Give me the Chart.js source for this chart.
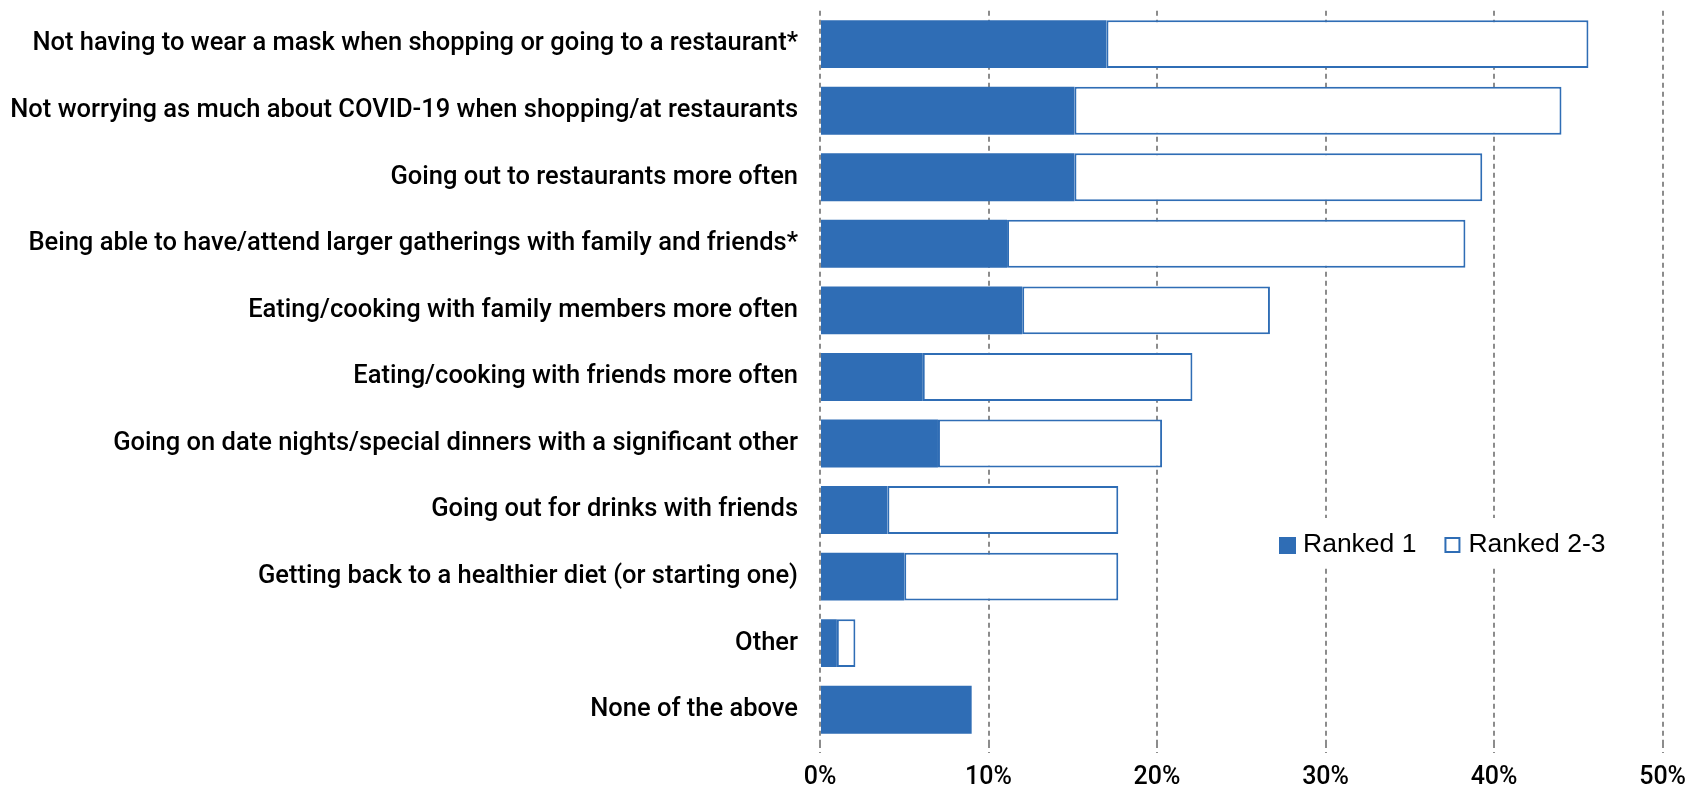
<!doctype html>
<html>

<head>
	<title>Post-COVID priorities</title>
	<script src="https://cdn.jsdelivr.net/npm/chart.js@4.4.0/dist/chart.umd.min.js"></script>
	<style>
		html, body {
			margin: 0;
			padding: 0;
			background: #fff;
		}
		#wrap {
			width: 1696px;
			height: 788px;
		}
	</style>
</head>

<body>
	<div id="wrap">
		<canvas id="canvas"></canvas>
	</div>
	<script>
		var categories = [
			'Not having to wear a mask when shopping or going to a restaurant*',
			'Not worrying as much about COVID-19 when shopping/at restaurants',
			'Going out to restaurants more often',
			'Being able to have/attend larger gatherings with family and friends*',
			'Eating/cooking with family members more often',
			'Eating/cooking with friends more often',
			'Going on date nights/special dinners with a significant other',
			'Going out for drinks with friends',
			'Getting back to a healthier diet (or starting one)',
			'Other',
			'None of the above'
		];
		var ranked1 = [17.0, 15.1, 15.1, 11.1, 12.0, 6.1, 7.0, 4.0, 5.0, 1.0, 9.0];
		var ranked23 = [28.6, 28.9, 24.2, 27.2, 14.7, 16.0, 13.3, 13.7, 12.7, 1.1, null];
		var tickValues = [0, 10, 20, 30, 40, 50];

		var blue = '#2F6DB5';
		var labelFont = 'Roboto, "DejaVu Sans Condensed", "Liberation Sans", sans-serif';

		// legend box sitting inside the plot, lower right
		var boxLegend = {
			id: 'boxLegend',
			afterDraw: function(chart) {
				var ctx = chart.ctx;
				var x = 1253, y = 518, w = 365, h = 50;
				ctx.save();
				ctx.fillStyle = '#fff';
				ctx.fillRect(x, y, w, h);
				ctx.font = '26.5px "Liberation Sans", Arial, sans-serif';
				ctx.textBaseline = 'middle';
				var cx = x + 26;
				var cy = y + h / 2 + 2;
				chart.data.datasets.forEach(function(ds) {
					if (ds.backgroundColor === '#fff') {
						ctx.fillStyle = '#fff';
						ctx.fillRect(cx, cy - 8, 16, 16);
						ctx.strokeStyle = blue;
						ctx.lineWidth = 2;
						ctx.strokeRect(cx + 1, cy - 7, 14, 14);
					} else {
						ctx.fillStyle = blue;
						ctx.fillRect(cx, cy - 8, 17, 17);
					}
					ctx.fillStyle = '#000';
					ctx.fillText(ds.label, cx + 24, cy);
					cx += 24 + ctx.measureText(ds.label).width + 28;
				});
				ctx.restore();
			}
		};

		var config = {
			type: 'bar',
			data: {
				labels: categories,
				datasets: [{
					label: 'Ranked 1',
					data: ranked1,
					backgroundColor: blue,
					borderWidth: 0
				}, {
					label: 'Ranked 2-3',
					data: ranked23,
					backgroundColor: '#fff',
					borderColor: blue,
					borderWidth: 2,
					borderSkipped: false
				}]
			},
			options: {
				indexAxis: 'y',
				responsive: true,
				maintainAspectRatio: false,
				animation: false,
				categoryPercentage: 1.0,
				barPercentage: 0.72,
				layout: {
					padding: { top: 0, right: 27, bottom: 0, left: 0 }
				},
				plugins: {
					legend: { display: false },
					tooltip: { enabled: false }
				},
				scales: {
					x: {
						stacked: true,
						min: 0,
						max: 50,
						afterBuildTicks: function(scale) {
							scale.ticks = tickValues.map(function(v) { return { value: v }; });
						},
						afterFit: function(scale) {
							scale.height = 45;
						},
						grid: {
							color: '#8C8C8C',
							lineWidth: 2,
							tickLength: 10,
							tickBorderDash: [5, 4]
						},
						border: { display: false, dash: [5, 4] },
						ticks: {
							color: '#000',
							padding: 10,
							font: { family: labelFont, size: 25, weight: '500' },
							callback: function(v) { return v + '%'; }
						}
					},
					y: {
						stacked: true,
						// tick marks hidden; their length just spaces the labels off the axis
						grid: { display: false, drawTicks: true, tickLength: 22 },
						border: { display: false },
						afterFit: function(scale) {
							scale.width = 820;
						},
						ticks: {
							color: '#000',
							padding: 0,
							autoSkip: false,
							font: { family: labelFont, size: 25.5, weight: '500', lineHeight: 0.85 }
						}
					}
				}
			},
			plugins: [boxLegend]
		};

		window.onload = function() {
			window.myBar = new Chart(document.getElementById('canvas'), config);
		};
	</script>
</body>

</html>
